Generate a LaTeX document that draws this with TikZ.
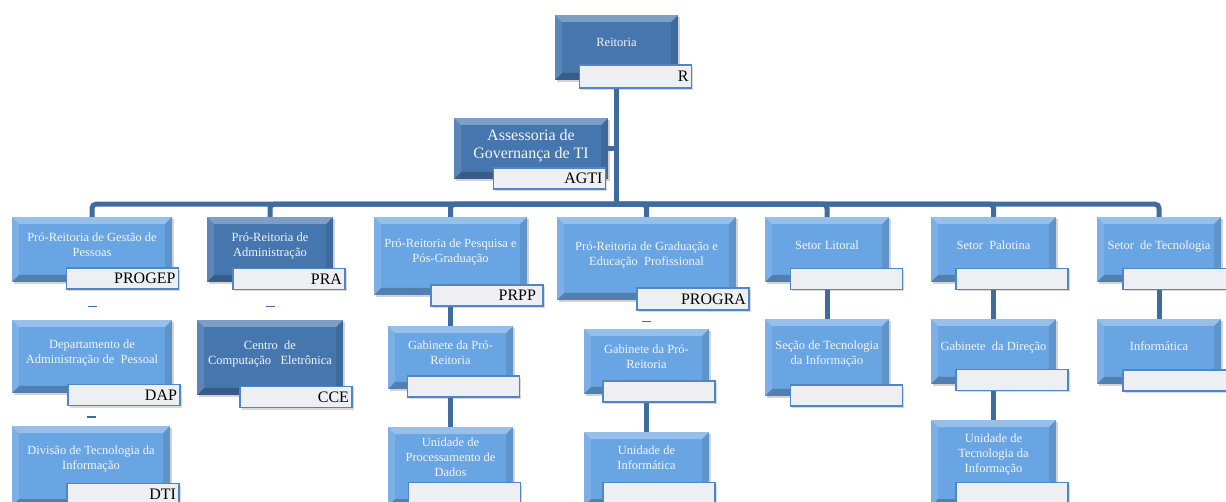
\documentclass[tikz,border=0pt]{standalone}
\usepackage{fontspec}
\setmainfont{Liberation Serif}
\usetikzlibrary{shadows,calc}

\definecolor{darkunit}{HTML}{4676AE}
\definecolor{lightunit}{HTML}{69A5E2}
\definecolor{unittext}{HTML}{F2F6FB}
\definecolor{linkblue}{HTML}{3E6C9F}
\definecolor{tagborder}{HTML}{4F86CA}
\definecolor{tagfill}{HTML}{EDEFF2}

\tikzset{
	bevel/.style={path picture={
		\fill[white,opacity=.3] (path picture bounding box.north west) -- (path picture bounding box.north east) -- ([shift={(-7pt,-7pt)}]path picture bounding box.north east) -- ([shift={(7pt,-7pt)}]path picture bounding box.north west) -- cycle;
		\fill[black,opacity=.22] (path picture bounding box.south west) -- (path picture bounding box.south east) -- ([shift={(-7pt,7pt)}]path picture bounding box.south east) -- ([shift={(7pt,7pt)}]path picture bounding box.south west) -- cycle;
		\fill[black,opacity=.1] (path picture bounding box.north east) -- (path picture bounding box.south east) -- ([shift={(-7pt,7pt)}]path picture bounding box.south east) -- ([shift={(-7pt,-7pt)}]path picture bounding box.north east) -- cycle;
		\fill[white,opacity=.12] (path picture bounding box.north west) -- (path picture bounding box.south west) -- ([shift={(7pt,7pt)}]path picture bounding box.south west) -- ([shift={(7pt,-7pt)}]path picture bounding box.north west) -- cycle;
	}},
	unit/.style={bevel, fill=lightunit, text=unittext, font=\fontsize{12.5}{15}\selectfont, align=center, inner sep=0pt, text depth=10pt, drop shadow={opacity=.35, shadow xshift=1.5pt, shadow yshift=-2pt}},
	dunit/.style={unit, fill=darkunit},
	tag/.style={draw=tagborder, line width=1.8pt, fill=tagfill, font=\fontsize{16}{16}\selectfont, align=right, text width=106pt, inner xsep=3pt, inner ysep=0pt, minimum height=21pt, drop shadow={opacity=.3, shadow xshift=1.5pt, shadow yshift=-2pt}},
	link/.style={draw=linkblue, line width=5pt},
	tick/.style={draw=linkblue, line width=1.5pt},
}

\begin{document}
\begin{tikzpicture}[x=1pt,y=-1pt]
	\useasboundingbox (0,0) rectangle (1226,502);
	\clip (0,0) rectangle (1226,502);

	\node[dunit, minimum width=123pt, minimum height=65pt] (reit) at (616.5,47.5) {Reitoria};
	\node[dunit, minimum width=154pt, minimum height=61pt, font=\fontsize{16}{18}\selectfont] (agti) at (531,148.5) {Assessoria de\\Governança de TI};

	\node[unit, minimum width=160pt, minimum height=65pt] (progep) at (92,249.5) {Pró-Reitoria de Gestão de\\Pessoas};
	\node[dunit, minimum width=126pt, minimum height=65pt] (pra) at (270,249.5) {Pró-Reitoria de\\Administração};
	\node[unit, minimum width=153pt, minimum height=78pt] (prpp) at (450.5,256) {Pró-Reitoria de Pesquisa e\\Pós-Graduação};
	\node[unit, minimum width=179pt, minimum height=83pt] (progra) at (646.5,258.5) {Pró-Reitoria de Graduação e\\Educação\ \ Profissional};
	\node[unit, minimum width=124pt, minimum height=65pt, text depth=8pt] (litoral) at (827,249.5) {Setor Litoral};
	\node[unit, minimum width=125pt, minimum height=65pt, text depth=8pt] (palotina) at (993.5,249.5) {Setor\ \ Palotina};
	\node[unit, minimum width=124pt, minimum height=65pt, text depth=8pt] (tecno) at (1159,249.5) {Setor\ \ de Tecnologia};

	\node[unit, minimum width=160pt, minimum height=73pt] (dap) at (92,356.5) {Departamento de\\Administração de\ \ Pessoal};
	\node[dunit, minimum width=146pt, minimum height=75pt] (cce) at (270,357.5) {Centro\ \ de\\Computação\ \ \ Eletrônica};
	\node[unit, minimum width=125pt, minimum height=63pt] (gabprpp) at (450.5,357.5) {Gabinete da Pró-\\Reitoria};
	\node[unit, minimum width=125pt, minimum height=65pt] (gabprogra) at (646.5,361.5) {Gabinete da Pró-\\Reitoria};
	\node[unit, minimum width=124pt, minimum height=77pt] (secao) at (827,357.5) {Seção de Tecnologia\\da Informação};
	\node[unit, minimum width=125pt, minimum height=65pt] (gabdir) at (993.5,351.5) {Gabinete\ \ da Direção};
	\node[unit, minimum width=124pt, minimum height=65pt] (info) at (1159,351.5) {Informática};

	\node[unit, minimum width=158pt, minimum height=80pt, text depth=16.5pt] (dti) at (91,466) {Divisão de Tecnologia da\\Informação};
	\node[unit, minimum width=125pt, minimum height=79pt, text depth=19pt] (upd) at (450.5,466.5) {Unidade de\\Processamento de\\Dados};
	\node[unit, minimum width=125pt, minimum height=74pt, text depth=22.5pt] (uinf) at (646.5,469) {Unidade de\\Informática};
	\node[unit, minimum width=125pt, minimum height=86pt, text depth=20pt] (uti) at (993.5,463) {Unidade de\\Tecnologia da\\Informação};

	\node[tag, minimum height=23pt] (rtag) at (635.5,76.5) {R};
	\node[tag] (agtitag) at (549.5,178.5) {AGTI};
	\node[tag] (progeptag) at (122.5,278.5) {PROGEP};
	\node[tag] (pratag) at (289,279) {PRA};
	\node[tag, text width=98pt, inner xsep=7pt] (prpptag) at (487,295.5) {PRPP};
	\node[tag, minimum height=22pt] (progratag) at (693,299) {PROGRA};
	\node[tag] (litoraltag) at (846.5,279) {};
	\node[tag] (palotinatag) at (1012,279) {};
	\node[tag] (tecnotag) at (1179,279) {};
	\node[tag] (daptag) at (124,395) {DAP};
	\node[tag] (ccetag) at (296,397) {CCE};
	\node[tag] (gabprpptag) at (463.5,386.5) {};
	\node[tag] (gabprogratag) at (659,391.5) {};
	\node[tag] (secaotag) at (846.5,395.5) {};
	\node[tag] (gabdirtag) at (1012,380) {};
	\node[tag] (infotag) at (1179,380.5) {};
	\node[tag] (dtitag) at (123,494) {DTI};
	\node[tag] (updtag) at (464.5,493) {};
	\node[tag] (uinftag) at (659,493) {};
	\node[tag] (utitag) at (1012,493) {};

	\path (reit.south) ++(0,124) coordinate (bus);
	\draw[link] (rtag.south -| bus) -- (bus);
	\draw[link] (agti.east) -- (agti.east -| bus);
	\foreach \col in {progep,pra,prpp,progra,litoral,palotina,tecno}
		\draw[link, rounded corners=4pt] (bus) -| (\col.north);

	\draw[link] (prpptag.south -| prpp.south) -- (gabprpp.north);
	\draw[link] (gabprpptag.south -| gabprpp.south) -- (upd.north);
	\draw[link] (gabprogratag.south -| gabprogra.south) -- (uinf.north);
	\draw[link] (litoraltag.south -| litoral.south) -- (secao.north);
	\draw[link] (palotinatag.south -| palotina.south) -- (gabdir.north);
	\draw[link] (gabdirtag.south -| gabdir.south) -- (uti.north);
	\draw[link] (tecnotag.south -| tecno.south) -- (info.north);

	\draw[tick] ($(progeptag.south -| progep.south)!.55!(dap.north)$) ++(-4.5,0) -- ++(9,0);
	\draw[tick] ($(pratag.south -| pra.south)!.55!(cce.north)$) ++(-4.5,0) -- ++(9,0);
	\draw[tick] ($(daptag.south -| dap.south)!.55!(dti.north)$) ++(-4.5,0) -- ++(9,0);
	\draw[tick] ($(progratag.south -| progra.south)!.6!(gabprogra.north)$) ++(-4.5,0) -- ++(9,0);
\end{tikzpicture}
\end{document}
